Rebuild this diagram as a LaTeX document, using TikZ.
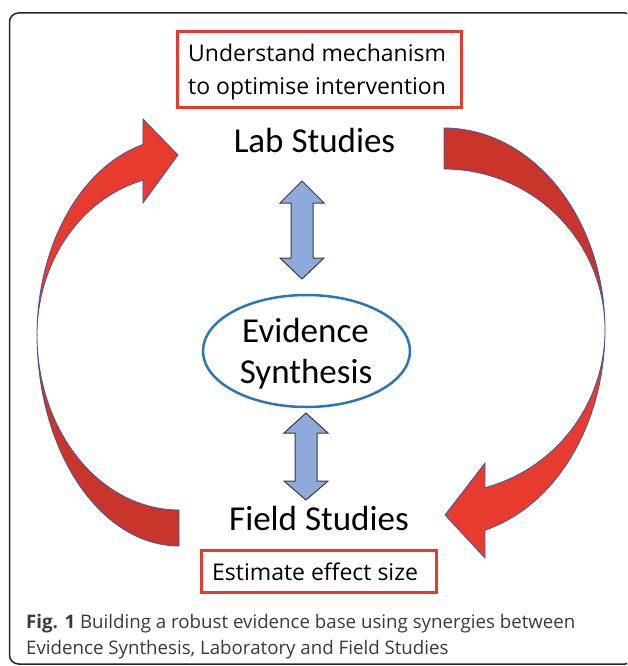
\documentclass[tikz,border=0pt]{standalone}
\usepackage{fontspec}
\setmainfont{Open Sans}
\newfontfamily\calib{Carlito}
\newfontfamily\osans{Open Sans}
\definecolor{redA}{HTML}{E83B2F}
\definecolor{redB}{HTML}{C9352B}
\definecolor{edgeblue}{HTML}{3E5A99}
\definecolor{boxred}{HTML}{E8392E}
\definecolor{arrowblue}{HTML}{8EAADB}
\definecolor{arrowedge}{HTML}{3A3A3A}
\definecolor{ellblue}{HTML}{2E75B6}
\definecolor{captext}{HTML}{3A3A3A}
\tikzset{
  redbox/.style={draw=boxred, line width=3pt, rectangle, inner sep=0pt},
  boxtext/.style={font=\osans\fontsize{23}{28}\selectfont, inner sep=0pt, text=black},
  bigtext/.style={font=\calib\fontsize{35}{41}\selectfont, inner sep=0pt, text=black},
  captxt/.style={font=\osans\fontsize{18.7}{26}\selectfont, inner sep=0pt, text=captext, anchor=base west},
  evid/.style={draw=ellblue, line width=2.5pt, ellipse, inner sep=0pt},
  brightpart/.style={fill=redA, draw=edgeblue, line width=0.8pt},
  darkpart/.style={fill=redB, draw=edgeblue, line width=0.8pt},
  bluearrow/.style={fill=arrowblue, draw=arrowedge, line width=1pt, line join=miter},
}
\usetikzlibrary{shapes.geometric}
\begin{document}
\begin{tikzpicture}[x=1pt, y=-1pt]
\useasboundingbox (0,0) rectangle (627,666);
\clip (0,0) rectangle (627,666);
\fill[white] (0,0) rectangle (627,666);
% outer frame
\draw[line width=1.5pt, draw=black!85, rounded corners=9pt] (9.5,13) rectangle (634,664);

% top box
\node[redbox, minimum width=284pt, minimum height=76pt] (mechbox) at (319,70) {};
\node[boxtext, anchor=base west] (mech1) at (188,62) {Understand mechanism};
\node[boxtext, anchor=base west] (mech2) at (188,95) {to optimise intervention};

% lab studies
\node[bigtext, anchor=base] (lab) at (314.5,152) {Lab Studies};

% evidence synthesis
\node[evid, minimum width=207pt, minimum height=112pt] (ev) at (306.5,351) {};
\node[bigtext, anchor=base] (ev1) at (305.5,342) {Evidence};
\node[bigtext, anchor=base] (ev2) at (306,383) {Synthesis};

% field studies
\node[bigtext, anchor=base] (field) at (319,530) {Field Studies};
\node[redbox, minimum width=235pt, minimum height=42pt] (effbox) at (318.5,571) {};
\node[boxtext, anchor=base west] (eff) at (212,580) {Estimate effect size};

% blue double arrows
\draw[bluearrow] (302,181) -- (324,203) -- (313,203) -- (313,258) -- (324,258) -- (302,279)
  -- (280,258) -- (291,258) -- (291,203) -- (280,203) -- cycle;
\draw[bluearrow] (306,413) -- (328,433) -- (317,433) -- (317,481) -- (328,481) -- (306,500)
  -- (284,481) -- (295,481) -- (295,433) -- (284,433) -- cycle;

% left curved arrow (lower dark part, upper bright part with head)
\path[darkpart] plot[domain=0:90, samples=50] ({179-142*cos(\x)}, {335+211*sin(\x)})
  -- plot[domain=90:0, samples=50] ({179-142*cos(\x)}, {335+175*sin(\x)}) -- cycle;
\path[brightpart] plot[domain=0:75.3, samples=50] ({179-142*cos(\x)}, {335-197*sin(\x)})
  -- (143,119) -- (178,155) -- (143,203)
  -- plot[domain=75.3:0, samples=50] ({179-142*cos(\x)}, {335-160*sin(\x)}) -- cycle;

% right curved arrow (upper dark part, lower bright part with head)
\path[darkpart] plot[domain=90:0, samples=50] ({444+161*cos(\x)}, {330-202*sin(\x)})
  -- plot[domain=0:90, samples=50] ({444+161*cos(\x)}, {330-161*sin(\x)}) -- cycle;
\path[brightpart] plot[domain=0:75.25, samples=50] ({444+161*cos(\x)}, {330+207*sin(\x)})
  -- (485,558) -- (445,515) -- (485,463)
  -- plot[domain=75.25:0, samples=50] ({444+161*cos(\x)}, {330+163*sin(\x)}) -- cycle;

% caption
\node[captxt] (cap1) at (26,628) {\textbf{Fig. 1} Building a robust evidence base using synergies between};
\node[captxt] (cap2) at (26,654) {Evidence Synthesis, Laboratory and Field Studies};
\end{tikzpicture}
\end{document}
